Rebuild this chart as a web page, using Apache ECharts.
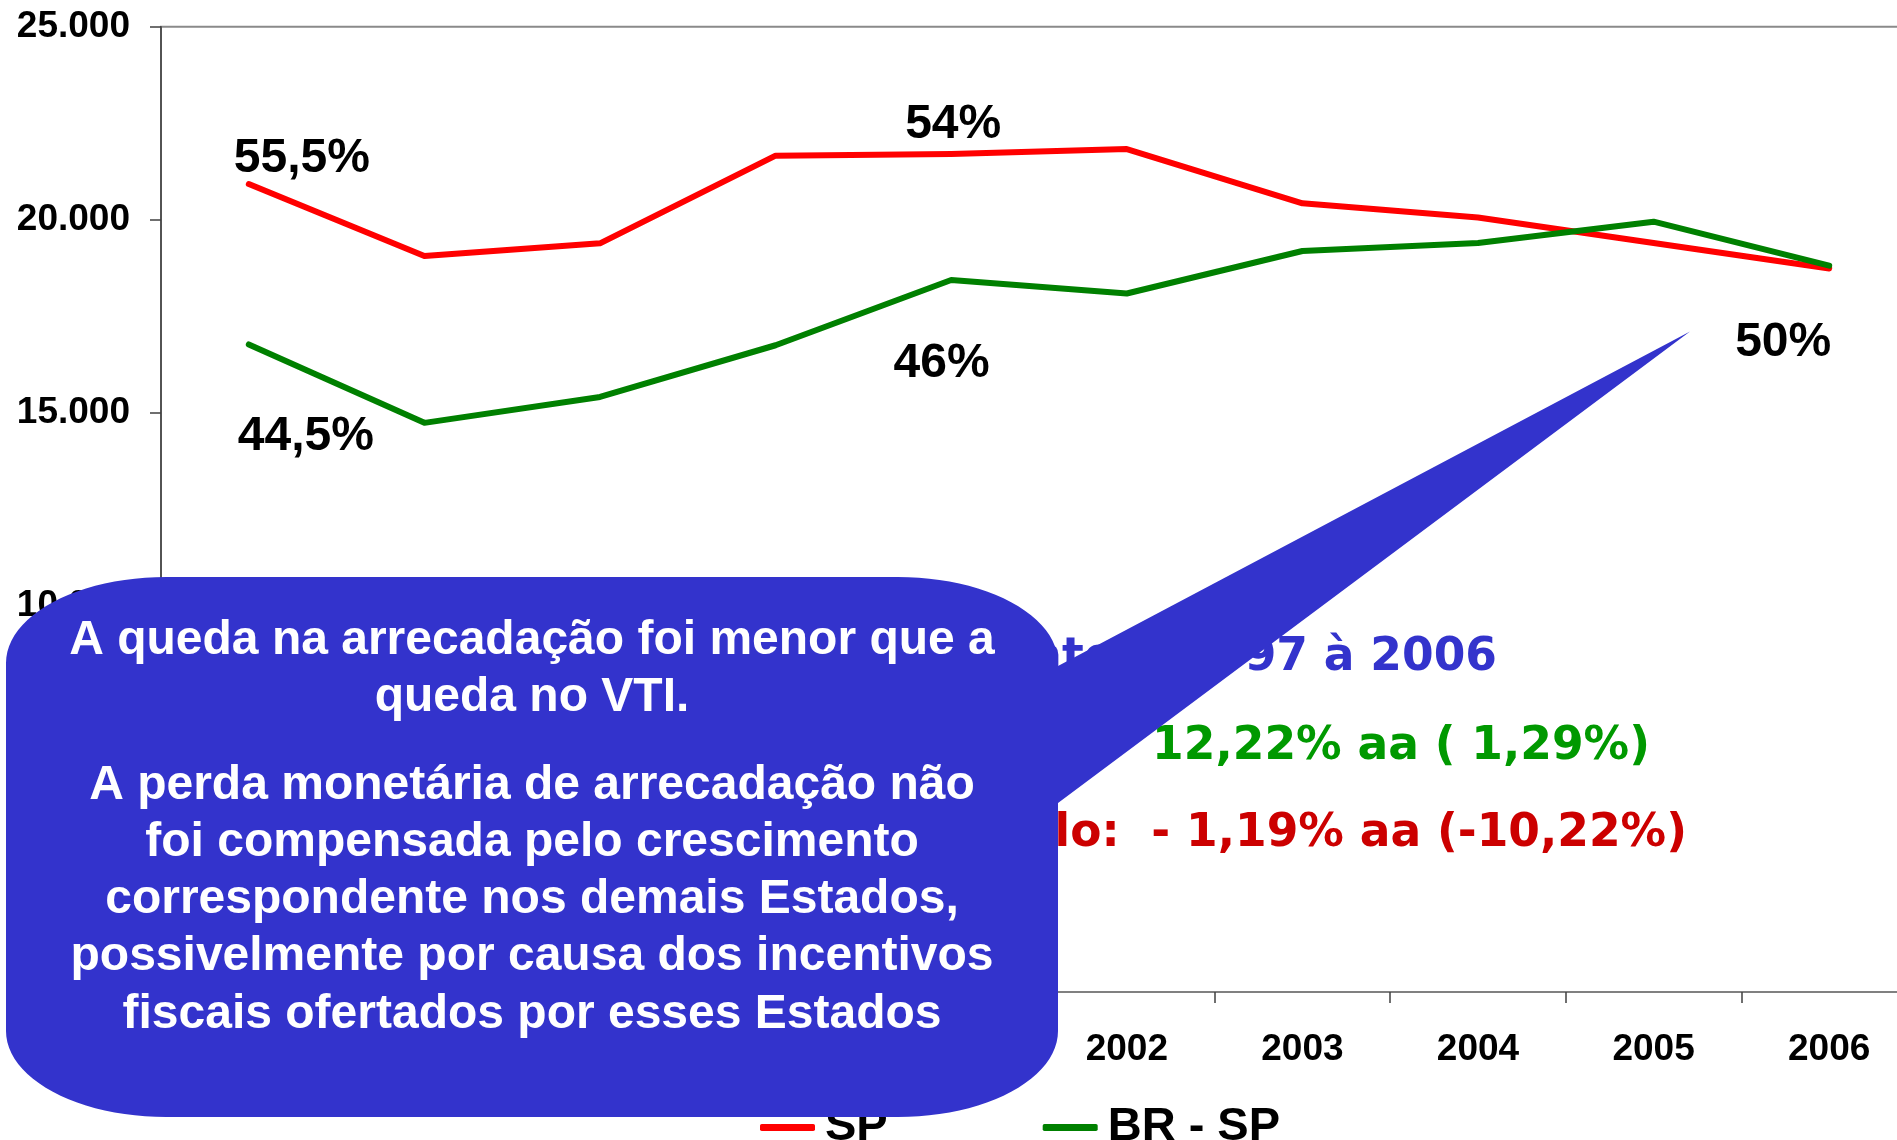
<!DOCTYPE html>
<html>
<head>
<meta charset="utf-8">
<script src="https://cdn.jsdelivr.net/npm/echarts@6/dist/echarts.min.js"></script>
<style>
  html, body { margin: 0; padding: 0; background: #ffffff; }
  #chart { width: 1897px; height: 1140px; }
</style>
</head>
<body>
<div id="chart"></div>
<script>
// ---- data ----
const years = ['1997', '1998', '1999', '2000', '2001', '2002', '2003', '2004', '2005', '2006'];
const spValues = [20925, 19060, 19390, 21660, 21700, 21830, 20425, 20060, 19400, 18740];
const brSpValues = [16770, 14740, 15410, 16750, 18440, 18090, 19190, 19400, 19950, 18810];
const seriesNames = ['SP', 'BR - SP'];
const yMin = 0, yMax = 25000, yStep = 5000;
const shareTexts = ['55,5%', '44,5%', '54%', '46%', '50%'];
const calloutLines = [
  'A queda na arrecadação foi menor que a',
  'queda no VTI.',
  'A perda monetária de arrecadação não',
  'foi compensada pelo crescimento',
  'correspondente nos demais Estados,',
  'possivelmente por causa dos incentivos',
  'fiscais ofertados por esses Estados'
];
const noteHead = 'Crescimento';
const noteLines = [
  'de 1997 à 2006',
  'BR - SP:  12,22% aa ( 1,29%)',
  'São Paulo:  - 1,19% aa (-10,22%)'
];

const chart = echarts.init(document.getElementById('chart'), null, { renderer: 'canvas' });
const ARIAL = '"Liberation Sans", Arial, sans-serif';
const VERDANA = '"DejaVu Sans", Verdana, sans-serif';

function fmtThousands(v) {
  if (v === 0) return '0';
  const s = String(Math.round(v));
  return s.replace(/\B(?=(\d{3})+(?!\d))/g, '.');
}

chart.setOption({
  animation: false,
  backgroundColor: '#ffffff',
  grid: {
    left: 161, top: 26.7, right: -20, bottom: 148,
    outerBoundsMode: 'none', containLabel: false,
    show: true, borderColor: '#8a8a8a', borderWidth: 2, backgroundColor: 'transparent'
  },
  legend: {
    data: seriesNames,
    left: 755, top: 1099,
    icon: 'roundRect',
    itemWidth: 55, itemHeight: 7, itemGap: 155,
    textStyle: { fontFamily: ARIAL, fontWeight: 'bold', fontSize: 47, lineHeight: 47, color: '#000', padding: [0, 0, 0, 5] }
  },
  xAxis: {
    type: 'category',
    data: years,
    boundaryGap: true,
    axisLine: { show: true, lineStyle: { color: '#808080', width: 2 } },
    axisTick: { show: true, length: 11, lineStyle: { color: '#404040', width: 1.5 } },
    axisLabel: { fontFamily: ARIAL, fontWeight: 'bold', fontSize: 37, lineHeight: 37, color: '#000', margin: 39, interval: 0 },
    splitLine: { show: false }
  },
  yAxis: {
    type: 'value',
    min: yMin, max: yMax, interval: yStep,
    axisLine: { show: true, lineStyle: { color: '#404040', width: 1.5 } },
    axisTick: { show: true, length: 11, lineStyle: { color: '#404040', width: 1.5 } },
    axisLabel: { fontFamily: ARIAL, fontWeight: 'bold', fontSize: 37, color: '#000', margin: 31, formatter: fmtThousands },
    splitLine: { show: false }
  },
  series: [
    {
      name: seriesNames[0], type: 'line', data: spValues, symbol: 'none',
      lineStyle: { color: '#ff0000', width: 6, cap: 'round', join: 'round' },
      itemStyle: { color: '#ff0000' }, z: 2
    },
    {
      name: seriesNames[1], type: 'line', data: brSpValues, symbol: 'none',
      lineStyle: { color: '#008000', width: 6, cap: 'round', join: 'round' },
      itemStyle: { color: '#008000' }, z: 3
    }
  ]
});

// ---- annotations ----
function px(seriesData, idx) {
  return chart.convertToPixel({ gridIndex: 0 }, [idx, seriesData[idx]]);
}
const p0r = px(spValues, 0), p0g = px(brSpValues, 0), p4r = px(spValues, 4), p4g = px(brSpValues, 4), p9g = px(brSpValues, 9);
const dy = 3.5;
const anchors = [
  [p0r[0] + 53, p0r[1] - 29 + dy],
  [p0g[0] + 57, p0g[1] + 89 + dy],
  [p4r[0] + 2, p4r[1] - 32.7 + dy],
  [p4g[0] - 9.6, p4g[1] + 80.5 + dy],
  [p9g[0] - 46, p9g[1] + 74 + dy]
];

const graphics = [];
shareTexts.forEach((t, i) => {
  graphics.push({
    type: 'text', z: 50, x: anchors[i][0], y: anchors[i][1],
    style: { text: t, fill: '#000', font: 'bold 48px ' + ARIAL, align: 'center', verticalAlign: 'middle' }
  });
});

// texts partly hidden by the callout
const noteColors = ['#3333cc', '#009900', '#cc0000'];
const noteRight = [1497, 1650, 1687];
const noteY = [658.3, 747.3, 833.8];
graphics.push({
  type: 'text', z: 90, x: 1115, y: noteY[0],
  style: { text: noteHead, fill: noteColors[0], font: 'bold 45.5px ' + VERDANA, align: 'right', verticalAlign: 'middle' }
});
noteLines.forEach((t, i) => {
  graphics.push({
    type: 'text', z: 90, x: noteRight[i], y: noteY[i],
    style: { text: t, fill: noteColors[i], font: 'bold 45.5px ' + VERDANA, align: 'right', verticalAlign: 'middle' }
  });
});

// callout shape
function calloutPoints(x0, y0, x1, y1, rx, ry, tailTop, tailBottom, apex) {
  const pts = [];
  const N = 24;
  function arc(cx, cy, a0, a1) {
    for (let k = 0; k <= N; k++) {
      const a = a0 + (a1 - a0) * k / N;
      pts.push([cx + rx * Math.cos(a), cy + ry * Math.sin(a)]);
    }
  }
  arc(x1 - rx, y0 + ry, -Math.PI / 2, 0);
  pts.push([x1, tailTop]);
  pts.push(apex);
  pts.push([x1, tailBottom]);
  arc(x1 - rx, y1 - ry, 0, Math.PI / 2);
  arc(x0 + rx, y1 - ry, Math.PI / 2, Math.PI);
  arc(x0 + rx, y0 + ry, Math.PI, Math.PI * 1.5);
  return pts;
}
graphics.push({
  type: 'polygon', z: 100,
  shape: { points: calloutPoints(6, 577, 1058, 1117, 160, 86, 666, 803, [1690, 331.5]) },
  style: { fill: '#3333cc', stroke: null }
});

const calloutBaselines = [653.5, 711, 798.4, 855.5, 912.5, 970, 1028];
calloutLines.forEach((t, i) => {
  graphics.push({
    type: 'text', z: 110, x: 532, y: calloutBaselines[i] - 16.6 + dy,
    style: { text: t, fill: '#ffffff', font: 'bold 48px ' + ARIAL, align: 'center', verticalAlign: 'middle' }
  });
});

chart.setOption({ graphic: { elements: graphics } });
</script>
</body>
</html>
